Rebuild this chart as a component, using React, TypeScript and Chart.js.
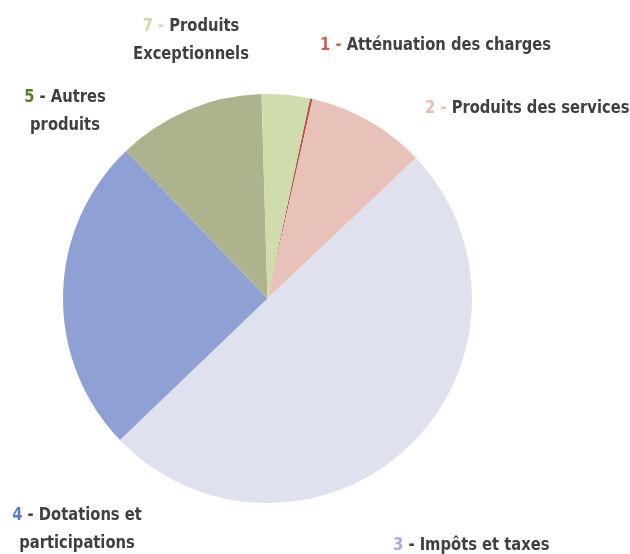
import React, { useEffect, useRef } from "react";
import { Chart, registerables } from "chart.js";

Chart.register(...registerables);

const categories = [
  "Atténuation des charges",
  "Produits des services",
  "Impôts et taxes",
  "Dotations et participations",
  "Autres produits",
  "Produits Exceptionnels",
];
const numbers = ["1", "2", "3", "4", "5", "7"];
const values = [0.2, 9.4, 49.9, 25.0, 11.7, 3.8];
const sliceColors = ["#b5524e", "#e8c1b8", "#dfe1ee", "#8fa0d4", "#adb38c", "#cfdcab"];
const numberColors = ["#c9605a", "#e9bcb3", "#a9aed0", "#5e7fc6", "#5b7a2c", "#c9dca6"];
const TEXT_COLOR = "#404040";
const dashColors = ["#c9605a", "#e9bcb3", TEXT_COLOR, TEXT_COLOR, TEXT_COLOR, "#c9dca6"];
// label text split into lines (first line carries the number)
const labelLines = [
  ["Atténuation des charges"],
  ["Produits des services"],
  ["Impôts et taxes"],
  ["Dotations et", "participations"],
  ["Autres", "produits"],
  ["Produits", "Exceptionnels"],
];

const FONT = 'bold 18px "DejaVu Sans Condensed", "DejaVu Sans", sans-serif';
const SQUEEZE = 0.91;

// label layout: anchor x, first baseline y, alignment
const labelLayout: { x: number; y: number; align: "left" | "center" }[] = [
  { x: 320, y: 50, align: "left" },
  { x: 425, y: 113, align: "left" },
  { x: 393, y: 550, align: "left" },
  { x: 77, y: 520, align: "center" },
  { x: 65, y: 102, align: "center" },
  { x: 191, y: 31, align: "center" },
];

const labelPlugin = {
  id: "outerLabels",
  afterDraw(chart: any) {
    const ctx = chart.ctx as CanvasRenderingContext2D;
    ctx.save();
    ctx.font = FONT;
    ctx.textBaseline = "alphabetic";
    ctx.textAlign = "left";
    const w = (t: string) => ctx.measureText(t).width * SQUEEZE;
    const run = (t: string, x: number, y: number, color: string) => {
      ctx.save();
      ctx.translate(x, y);
      ctx.scale(SQUEEZE, 1);
      ctx.fillStyle = color;
      ctx.fillText(t, 0, 0);
      ctx.restore();
      return w(t);
    };
    labelLines.forEach((lines, i) => {
      const L = labelLayout[i];
      lines.forEach((line, j) => {
        const y = L.y + j * 28;
        if (j === 0) {
          const dash = " - ";
          const total = w(numbers[i]) + w(dash) + w(line);
          let x = L.align === "center" ? L.x - total / 2 : L.x;
          x += run(numbers[i], x, y, numberColors[i]);
          x += run(dash, x, y, dashColors[i]);
          run(line, x, y, TEXT_COLOR);
        } else {
          const total = w(line);
          const x = L.align === "center" ? L.x - total / 2 : L.x;
          run(line, x, y, TEXT_COLOR);
        }
      });
    });
    ctx.restore();
  },
};

export default function App() {
  const ref = useRef<HTMLCanvasElement | null>(null);
  useEffect(() => {
    document.body.style.margin = "0";
    document.body.style.background = "#ffffff";
    if (!ref.current) return;
    const chart = new Chart(ref.current, {
      type: "pie",
      data: {
        labels: categories,
        datasets: [
          {
            data: values,
            backgroundColor: sliceColors,
            borderWidth: 0,
          },
        ],
      },
      options: {
        animation: false,
        responsive: false,
        rotation: 12,
        layout: { padding: { top: 94, bottom: 51, left: 63, right: 158 } },
        plugins: {
          legend: { display: false },
          tooltip: { enabled: false },
        },
      },
      plugins: [labelPlugin],
    });
    return () => chart.destroy();
  }, []);
  return <canvas ref={ref} width={630} height={554} style={{ display: "block" }} />;
}
